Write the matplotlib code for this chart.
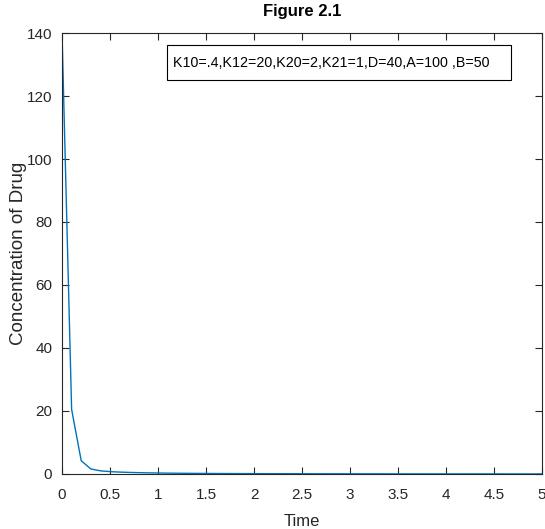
import numpy as np
import matplotlib.pyplot as plt
from matplotlib.patches import Rectangle

plt.rcParams['font.family'] = ['Liberation Sans', 'DejaVu Sans']

t = np.arange(0, 5.01, 0.1)
conc = [140, 20.5, 4.2, 1.6, 1.0, 0.75, 0.6, 0.5, 0.42, 0.36,
        0.31, 0.27, 0.24, 0.21, 0.19, 0.17, 0.15, 0.14, 0.13, 0.12,
        0.11, 0.10, 0.09, 0.085, 0.08, 0.075, 0.07, 0.065, 0.06, 0.056,
        0.052, 0.049, 0.046, 0.043, 0.04, 0.038, 0.036, 0.034, 0.032, 0.03,
        0.028, 0.027, 0.025, 0.024, 0.023, 0.022, 0.021, 0.02, 0.019, 0.018,
        0.017]

dark = '#262626'
fig = plt.figure(figsize=(5.45, 5.29), dpi=100)
ax = fig.add_axes([0.1138, 0.104, 0.8807, 0.8336])
ax.plot(t, conc, color='#0072BD', lw=1)
ax.set_xlim(0, 5)
ax.set_ylim(0, 140)
ax.set_xticks(np.arange(0, 5.01, 0.5))
ax.set_xticklabels(['0', '0.5', '1', '1.5', '2', '2.5', '3', '3.5', '4', '4.5', '5'])
ax.set_yticks(np.arange(0, 141, 20))
ax.tick_params(direction='in', top=True, right=True, length=5, width=0.8,
               colors=dark, labelsize=11)
ax.tick_params(axis='x', pad=10)
ax.tick_params(axis='y', pad=7)
for s in ax.spines.values():
    s.set_color(dark)
    s.set_linewidth(0.8)
ax.set_xlabel('Time', fontsize=12, color=dark, labelpad=9)
ax.set_ylabel('Concentration of Drug', fontsize=13.5, color=dark, labelpad=0)
ax.set_title('Figure 2.1', fontsize=12, fontweight='bold', color='black', pad=12)

ax.add_patch(Rectangle((0.219, 0.8934), 0.716, 0.0794, transform=ax.transAxes,
                       fc='white', ec='black', lw=0.8, zorder=3))
ax.text(0.231, 0.933, 'K10=.4,K12=20,K20=2,K21=1,D=40,A=100 ,B=50',
        transform=ax.transAxes, fontsize=10.3, va='center', ha='left', zorder=4)
fig.savefig('out.png', dpi=100)
